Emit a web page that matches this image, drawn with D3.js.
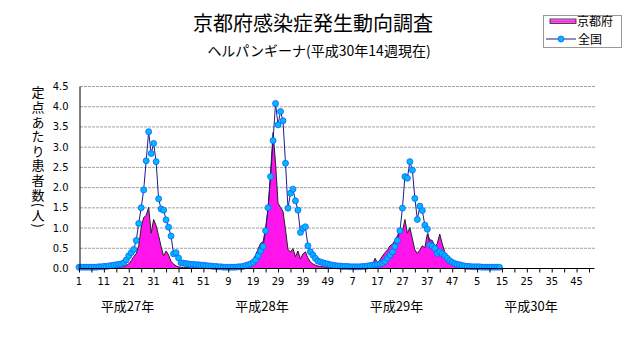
<!DOCTYPE html>
<html><head><meta charset="utf-8">
<script src="https://cdn.jsdelivr.net/npm/d3@7"></script>
<style>
html,body{margin:0;padding:0;background:#fff;}
svg{display:block;}
.num{font-family:'Liberation Sans Narrow','DejaVu Sans Condensed',sans-serif;font-size:11px;fill:#000;}
.jp{font-family:'Noto Sans CJK JP',sans-serif;fill:#000;}
</style></head><body>
<svg id="c" width="631" height="347"></svg>
<script>
const title = "京都府感染症発生動向調査";
const subtitle = "ヘルパンギーナ(平成30年14週現在)";
const yTitle = "定点あたり患者数(人)";
const seriesNames = ["京都府","全国"];
const yearLabels = ["平成27年","平成28年","平成29年","平成30年"];
const xTickLabels = ["1","11","21","31","41","51","9","19","29","39","49","7","17","27","37","47","5","15","25","35","45"];
const yTicks = [0,0.5,1,1.5,2,2.5,3,3.5,4,4.5];
const totalWeeks = 208;

// 全国 (national), weekly, 2015 w1 .. 2018 w14
const zenkoku = [
 // 2015
 0.02,0.02,0.02,0.02,0.02,0.02,0.02,0.02,0.03,0.03,0.04,0.04,0.05,0.06,0.07,0.08,0.09,0.10,0.13,0.20,
 0.30,0.38,0.46,0.68,1.10,1.49,1.93,2.65,3.37,2.83,3.08,2.63,1.71,1.46,1.43,1.19,1.01,0.79,0.35,0.38,
 0.25,0.13,0.12,0.11,0.10,0.09,0.09,0.08,0.08,0.07,0.07,0.06,
 // 2016
 0.05,0.05,0.04,0.04,0.03,0.03,0.02,0.02,0.02,0.02,0.02,0.02,0.03,0.03,0.04,0.06,0.08,0.10,0.14,0.20,
 0.30,0.42,0.53,0.92,1.49,2.26,3.15,4.07,3.54,3.87,3.64,2.59,1.48,1.85,1.95,1.66,1.43,0.88,0.98,1.02,
 0.55,0.40,0.32,0.24,0.17,0.15,0.13,0.11,0.10,0.08,0.07,0.06,
 // 2017
 0.05,0.05,0.04,0.04,0.04,0.03,0.03,0.03,0.03,0.03,0.04,0.04,0.05,0.06,0.07,0.08,0.09,0.10,0.12,0.16,
 0.24,0.32,0.40,0.53,0.68,0.92,1.48,2.26,2.22,2.63,2.42,1.72,1.20,1.53,1.42,1.06,0.96,0.57,0.54,0.49,
 0.36,0.40,0.35,0.30,0.24,0.18,0.14,0.11,0.09,0.08,0.06,0.05,
 // 2018
 0.04,0.04,0.03,0.03,0.03,0.03,0.02,0.02,0.02,0.02,0.02,0.02,0.02,0.02
];
// 京都府 (Kyoto), weekly, 2015 w1 .. 2018 w14
const kyoto = [
 // 2015
 0.00,0.00,0.00,0.00,0.00,0.00,0.00,0.00,0.00,0.00,0.01,0.00,0.01,0.02,0.01,0.02,0.03,0.03,0.04,0.06,
 0.10,0.18,0.28,0.36,0.55,1.00,1.25,1.30,1.50,0.86,1.20,1.05,0.80,0.53,0.30,0.42,0.32,0.16,0.10,0.05,
 0.03,0.02,0.01,0.02,0.01,0.00,0.01,0.00,0.00,0.01,0.00,0.00,
 // 2016
 0.00,0.00,0.01,0.00,0.00,0.00,0.00,0.00,0.00,0.01,0.00,0.01,0.02,0.02,0.03,0.05,0.08,0.12,0.20,0.32,
 0.47,0.61,0.65,0.98,1.48,2.35,3.35,2.60,1.60,1.50,1.40,0.95,0.45,0.40,0.48,0.28,0.42,0.22,0.35,0.40,
 0.25,0.15,0.10,0.07,0.05,0.04,0.03,0.02,0.02,0.01,0.01,0.00,
 // 2017
 0.01,0.00,0.01,0.02,0.01,0.02,0.02,0.01,0.03,0.02,0.03,0.04,0.05,0.06,0.08,0.24,0.12,0.20,0.30,0.38,
 0.45,0.55,0.59,0.68,0.80,0.94,0.90,1.20,0.86,1.00,0.72,0.45,0.36,0.45,0.55,0.50,0.84,0.70,0.68,0.53,
 0.60,0.84,0.60,0.40,0.30,0.25,0.18,0.12,0.08,0.05,0.04,0.03,
 // 2018
 0.02,0.01,0.02,0.01,0.01,0.00,0.01,0.00,0.00,0.01,0.00,0.00,0.00,0.00
];

const svg = d3.select("#c");
const x = d3.scaleLinear().domain([0, totalWeeks - 1]).range([79, 594]);
const y = d3.scaleLinear().domain([0, 4.5]).range([268, 86]);

// titles
svg.append("text").attr("class","jp").attr("x",313).attr("y",31).attr("text-anchor","middle")
  .style("font-size","20px").text(title);
svg.append("text").attr("class","jp").attr("x",319).attr("y",56).attr("text-anchor","middle")
  .style("font-size","14px").text(subtitle);

// gridlines
svg.append("g").selectAll("line").data(yTicks.filter(v => v > 0)).join("line")
  .attr("x1", 80).attr("x2", 595).attr("y1", d => y(d) + 0.5).attr("y2", d => y(d) + 0.5)
  .attr("stroke", "#a0a0a0").attr("stroke-dasharray", "3,1");

// Kyoto area
const idx = d3.range(kyoto.length);
const area = d3.area().x(i => x(i)).y0(y(0)).y1(i => y(kyoto[i]));
svg.append("path").datum(idx).attr("d", area).attr("fill", "#ff14ec");
svg.append("path").datum(idx).attr("d", d3.line().x(i => x(i)).y(i => y(kyoto[i])))
  .attr("fill", "none").attr("stroke", "#222").attr("stroke-width", 1);

// national line + markers
const nidx = d3.range(zenkoku.length);
svg.append("path").datum(nidx).attr("d", d3.line().x(i => x(i)).y(i => y(zenkoku[i])))
  .attr("fill", "none").attr("stroke", "#1c1c8c").attr("stroke-width", 1);
svg.append("g").selectAll("circle").data(nidx).join("circle")
  .attr("cx", i => x(i)).attr("cy", i => y(zenkoku[i])).attr("r", 3)
  .attr("fill", "#00b8ff").attr("stroke", "#1060ff").attr("stroke-width", 0.8);

// axes
const xAxis = d3.axisBottom(x)
  .tickValues(d3.range(0, totalWeeks, 5))
  .tickSize(4)
  .tickFormat(() => "");
const gx = svg.append("g").attr("transform", `translate(0,${y(0) + 0.5})`).call(xAxis);
gx.select(".domain").attr("d", `M${x(0)},0H${x(totalWeeks - 1) + 0.5}`).attr("stroke", "#000");
gx.selectAll(".tick line").attr("stroke", "#000");
svg.append("g").selectAll("text").data(xTickLabels).join("text")
  .attr("class", "num").attr("x", (d, i) => x(i * 10)).attr("y", 285)
  .attr("text-anchor", "middle").text(d => d);

const yAxis = d3.axisLeft(y).tickValues(yTicks).tickSize(0).tickFormat(d3.format(".1f")).tickPadding(11);
const gy = svg.append("g").attr("transform", `translate(${x(0) + 0.5},0)`).call(yAxis);
gy.select(".domain").attr("stroke", "#000");
gy.selectAll("text").attr("class", "num").attr("font-family", null).attr("font-size", null);

// year labels
svg.append("g").selectAll("text").data(yearLabels).join("text")
  .attr("class", "jp").style("font-size", "13px")
  .attr("x", (d, i) => 127.5 + i * 134.5).attr("y", 311).attr("text-anchor", "middle").text(d => d);

// y axis title (vertical)
svg.append("text").attr("class", "jp")
  .style("font-size", "13px").style("writing-mode", "vertical-rl").style("letter-spacing", "1.6px")
  .attr("x", 38).attr("y", 86).text(yTitle);

// legend
const lg = svg.append("g").attr("transform", "translate(543,15)");
lg.append("rect").attr("x", 0.5).attr("y", 0.5).attr("width", 78).attr("height", 32)
  .attr("fill", "#fff").attr("stroke", "#999");
const grad = svg.append("defs").append("linearGradient").attr("id", "lgpink")
  .attr("x1", 0).attr("x2", 0).attr("y1", 0).attr("y2", 1);
grad.append("stop").attr("offset", 0).attr("stop-color", "#ffb0f5");
grad.append("stop").attr("offset", 0.5).attr("stop-color", "#ff14ec");
grad.append("stop").attr("offset", 1).attr("stop-color", "#ff80f0");
lg.append("rect").attr("x", 7).attr("y", 4).attr("width", 26).attr("height", 4.5)
  .attr("fill", "url(#lgpink)").attr("stroke", "#222").attr("stroke-width", 0.8);
lg.append("text").attr("class", "jp").style("font-size", "12px").attr("x", 34).attr("y", 11).text(seriesNames[0]);
lg.append("line").attr("x1", 3).attr("x2", 33).attr("y1", 24).attr("y2", 24).attr("stroke", "#1c1c8c");
lg.append("circle").attr("cx", 18).attr("cy", 24).attr("r", 3).attr("fill", "#00b8ff").attr("stroke", "#1060ff").attr("stroke-width", 0.8);
lg.append("text").attr("class", "jp").style("font-size", "12px").attr("x", 35).attr("y", 29).text(seriesNames[1]);
</script>
</body></html>
